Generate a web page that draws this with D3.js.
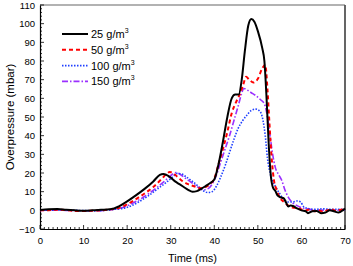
<!DOCTYPE html>
<html>
<head>
<meta charset="utf-8">
<script src="https://cdn.jsdelivr.net/npm/d3@7/dist/d3.min.js"></script>
<style>
body { margin: 0; background: #fff; }
svg { font-family: Arial, "Liberation Sans", sans-serif; }
</style>
</head>
<body>
<svg id="chart" width="353" height="266"></svg>
<script>
// series: [time (ms), overpressure (mbar)]
var s25 = [[0,0.2],[2,0.6],[4,0.7],[6,0.3],[8,0],[10,-0.2],[12,0],[14,0.3],[16,0.6],[17,1],[18,2],[20,4.8],[22,8],[24,11.5],[26,15.5],[27.5,19],[28.3,19.5],[29,19],[30,17.5],[31,15.5],[32,14],[33,12.5],[34,11],[35,10],[36,10.3],[37,11.5],[38,13],[39,14.5],[40,16.5],[41,25],[42,37],[43,50],[44,60],[44.8,62],[45.6,62],[46.3,70],[47,85],[47.8,99],[48.5,102.5],[49.2,101],[50,96],[51,87],[51.5,80],[52,60],[52.5,35],[53,18],[53.5,12],[54,10.5],[54.5,8],[55.2,7],[55.9,6.5],[56.5,4],[57,2],[57.5,2.6],[58.2,2.2],[59,1],[60,0],[61,-0.5],[61.5,-1.5],[62.5,-0.5],[63.5,-0.3],[64.5,-1.5],[65.5,-1.2],[66.5,0],[67.5,-0.5],[68.5,-1.2],[69.5,0],[70,1]];
var s50 = [[0,0],[2,0.1],[4,0.3],[6,0.1],[8,-0.3],[10,-0.4],[12,-0.2],[14,0],[16,0.5],[18,1.2],[20,3.2],[22,6],[24,9],[26,12.5],[28,17],[29,19.5],[29.8,20.5],[30.5,20],[31.5,18],[32.5,16],[34,14],[35.5,12.8],[37,11.8],[38,12.5],[39,14],[40,17],[41,25],[42,33],[43,42],[44,52],[45,58],[46,63],[46.6,67],[47.3,71.5],[48,70],[49,68.5],[50,70.5],[51,76],[51.7,78],[52.2,65],[52.7,45],[53.2,27],[53.7,16],[54.3,11],[55,7],[56,4.5],[57,2.5],[58,1.5],[59,1.2],[60,0.5],[61,0],[62,0.5],[63,-0.5],[64,0],[65,-0.8],[66,0],[67,0.5],[68,-0.5],[69,0.3],[70,0.5]];
var s100 = [[0,0],[4,0.2],[8,0],[12,-0.2],[15,0],[17,0.5],[19,1],[21,2.5],[23,5],[25,8],[27,11.5],[29,15],[30.5,18],[31.5,19.8],[32.5,19.5],[33.5,18],[35,15.5],[36.5,12.5],[37.5,10.5],[38.5,9.5],[39.5,10],[40.5,13],[41.5,18],[42.5,24],[43.5,31],[44.5,38],[45.5,44],[46.5,48],[47.5,51],[48.5,53.5],[49.5,54.2],[50.5,53],[51.2,48],[51.7,40],[52.2,28],[52.8,20],[53.3,16],[54,13],[55,9],[56,6],[57,4.5],[58,4.5],[59,5],[59.8,4.5],[60.5,2],[61.5,1],[63,0.5],[65,0.8],[67,0.5],[69,0.5],[70,0.5]];
var s150 = [[0,0],[4,0.1],[8,-0.2],[12,-0.2],[15,0],[17,0.6],[19,1.5],[21,3.5],[23,6],[25,9],[27,12.5],[29,16.5],[30.5,19.5],[31.2,20.2],[32,19.5],[33.5,17],[35,14.5],[36.5,12],[37.5,11],[38.5,11.5],[39.5,14],[40.5,19],[41.5,26],[42.5,33],[43.5,40],[44.5,48],[45.5,56],[46.2,62],[46.8,65.3],[47.5,64.5],[48.5,63],[49.5,61.5],[50.5,59.5],[51.5,57],[52.2,50],[52.8,40],[53.4,30],[54,23],[54.8,19],[55.5,16],[56.2,11],[57,7],[58,4],[59,2.5],[60,1.5],[61,1],[62,0.5],[64,0],[66,0.2],[68,0],[70,0.3]];

var seriesNames = ["25", "50", "100", "150"];
var xTicks = [0, 10, 20, 30, 40, 50, 60, 70];
var yTicks = [-10, 0, 10, 20, 30, 40, 50, 60, 70, 80, 90, 100, 110];

function draw() {
	var series = [
		{ name: seriesNames[0], data: s25, color: "#000000", width: 2, dash: null },
		{ name: seriesNames[1], data: s50, color: "#ff0000", width: 2, dash: "4,3" },
		{ name: seriesNames[2], data: s100, color: "#1f3fff", width: 1.6, dash: "1.5,1.5" },
		{ name: seriesNames[3], data: s150, color: "#9b30ff", width: 1.6, dash: "6,2,1.5,2" }
	];

	var svg = d3.select("#chart"),
		mLeft = 40, mRight = 345, mTop = 5, mBottom = 229;

	var x = d3.scaleLinear().domain([0, 70]).range([mLeft, mRight]);
	var y = d3.scaleLinear().domain([-10, 110]).range([mBottom, mTop]);

	var g = svg.append("g");

	// frame (top / right)
	g.append("line").attr("x1", mLeft).attr("x2", mRight).attr("y1", mTop).attr("y2", mTop)
		.attr("stroke", "#666").attr("stroke-width", 1.2);
	g.append("line").attr("x1", mRight).attr("x2", mRight).attr("y1", mTop).attr("y2", mBottom)
		.attr("stroke", "#555").attr("stroke-width", 1.8);

	// minor ticks
	g.append("g").selectAll("line").data(d3.range(0, 71, 1)).enter().append("line")
		.attr("x1", function(d) { return x(d); }).attr("x2", function(d) { return x(d); })
		.attr("y1", mBottom).attr("y2", function(d) { return d % 10 == 0 ? mBottom - 4 : mBottom - 2; })
		.attr("stroke", "#000").attr("stroke-width", 0.8);
	g.append("g").selectAll("line").data(d3.range(-10, 111, 2)).enter().append("line")
		.attr("y1", function(d) { return y(d); }).attr("y2", function(d) { return y(d); })
		.attr("x1", mLeft).attr("x2", function(d) { return d % 10 == 0 ? mLeft + 4 : mLeft + 2; })
		.attr("stroke", "#000").attr("stroke-width", 0.8);

	// axes
	var xAxis = g.append("g").attr("transform", "translate(0," + mBottom + ")")
		.call(d3.axisBottom(x).tickValues(xTicks).tickSize(0).tickPadding(8));
	var yAxis = g.append("g").attr("transform", "translate(" + mLeft + ",0)")
		.call(d3.axisLeft(y).tickValues(yTicks).tickSize(0).tickPadding(5));
	[xAxis, yAxis].forEach(function(a) {
		a.select(".domain").attr("stroke", "#000").attr("stroke-width", 1.2);
		a.selectAll("text").attr("font-size", "9.5px").attr("fill", "#000")
			.attr("font-family", "Arial, 'Liberation Sans', sans-serif");
	});

	// axis titles
	g.append("text").attr("x", (mLeft + mRight) / 2).attr("y", 262)
		.attr("text-anchor", "middle").attr("font-size", "11px").text("Time (ms)");
	g.append("text").attr("transform", "translate(14," + ((mTop + mBottom) / 2) + ") rotate(-90)")
		.attr("text-anchor", "middle").attr("font-size", "11.5px").text("Overpressure (mbar)");

	// lines
	var line = d3.line()
		.x(function(d) { return x(d[0]); })
		.y(function(d) { return y(d[1]); })
		.curve(d3.curveMonotoneX);

	g.append("g").selectAll("path").data(series.slice().reverse()).enter().append("path")
		.attr("d", function(d) { return line(d.data); })
		.attr("fill", "none")
		.attr("stroke", function(d) { return d.color; })
		.attr("stroke-width", function(d) { return d.width; })
		.attr("stroke-dasharray", function(d) { return d.dash; });

	// legend
	var legend = g.append("g").selectAll("g").data(series).enter().append("g")
		.attr("transform", function(d, i) { return "translate(62," + (34 + i * 15.8) + ")"; });
	legend.append("line").attr("x1", 0).attr("x2", 26).attr("y1", 0).attr("y2", 0)
		.attr("stroke", function(d) { return d.color; })
		.attr("stroke-width", function(d) { return d.width; })
		.attr("stroke-dasharray", function(d) { return d.dash; });
	var lt = legend.append("text").attr("x", 29).attr("y", 4).attr("font-size", "11px");
	lt.append("tspan").text(function(d) { return d.name + " g/m"; });
	lt.append("tspan").attr("font-size", "7px").attr("dy", -5).text("3");
}
draw();
</script>
</body>
</html>
